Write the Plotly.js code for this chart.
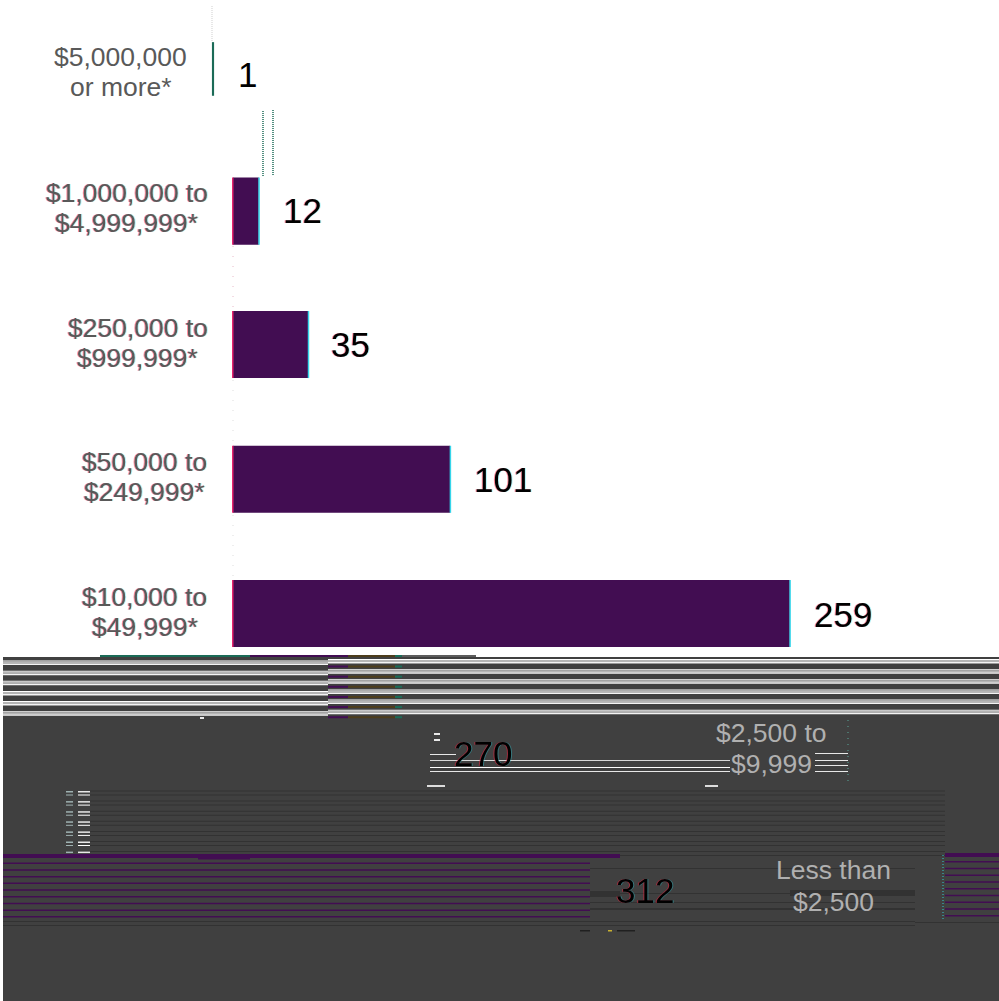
<!DOCTYPE html>
<html><head><meta charset="utf-8">
<script src="https://cdn.plot.ly/plotly-3.0.1.min.js"></script>
<style>html,body{margin:0;padding:0;background:#fff;overflow:hidden}</style>
</head><body><div id="chart" style="width:999px;height:1001px"></div>
<script>
// ---- data ----
const labelLine1 = ['$5,000,000', '$1,000,000 to', '$250,000 to', '$50,000 to', '$10,000 to', '$2,500 to', 'Less than'];
const labelLine2 = ['or more*', '$4,999,999*', '$999,999*', '$249,999*', '$49,999*', '$9,999', '$2,500'];
const values = [1, 12, 35, 101, 259, 270, 312];

// ---- layout of the picture ----
const W = 999, H = 1001, ZERO = 233, PX_PER_UNIT = 2.15, ROW0 = 77, ROW_STEP = 134.1;
const PURPLE = '#420d52', GREEN = '#1b6b57', DARK = '#404040', DARKER = '#323232';
const solidRows = 5;                       // the last two rows are shredded in the reference
const rowShift = [-0.06, 0, -0.005, 0, 0];
const barThick = [0.4, 0.5, 0.5, 0.5, 0.5];
const barBase = [-9.8, 0, 0, 0, 0];
const barColor = [GREEN, PURPLE, PURPLE, PURPLE, PURPLE];
const labelCx = [120.5, 126.5, 137.5, 144.5, 144.5, 771, 833];
const labelY1 = [57, 193, 328, 462, 597, 733, 870];
const labelY2 = [87, 223, 358, 492, 627, 764, 902];
const valueX = [235.5, 280.5, 328.5, 471.5, 811.5, 452, 614];
const valueY = [74, 210.5, 344.5, 479.5, 614.5, 753, 890];

const dataX = px => (px - ZERO) / PX_PER_UNIT;
const dataY = px => (px - ROW0) / ROW_STEP;
const shapes = [];
function rect(x0, y0, x1, y1, color) {
  shapes.push({type: 'rect', xref: 'paper', yref: 'paper', x0: x0 / W, x1: x1 / W,
    y0: 1 - y0 / H, y1: 1 - y1 / H, fillcolor: color, line: {width: 0}});
}
function vdots(x, y0, y1, color, dash, width) {
  shapes.push({type: 'line', xref: 'paper', yref: 'paper', x0: x / W, x1: x / W,
    y0: 1 - y0 / H, y1: 1 - y1 / H, line: {color: color, width: width || 1, dash: dash}});
}

// thin guides in the white part
vdots(212, 6, 42, '#cfcfcf', '1px,1px');
vdots(263, 111, 177, GREEN, '1px,1px', 1.5);
vdots(273, 110, 176, GREEN, '1px,1px', 1.5);
vdots(233, 246, 310, '#e8b8c8', '1px,9px');
vdots(233, 380, 445, '#dddddd', '1px,9px');
vdots(233, 515, 580, '#dddddd', '1px,9px');

// colour fringes along the bars
for (let i = 1; i < solidRows; i++) {
  const c = ROW0 + (i + rowShift[i]) * ROW_STEP, h = barThick[i] * ROW_STEP / 2, r = ZERO + values[i] * PX_PER_UNIT;
  rect(ZERO - 1, c - h, ZERO + 0.5, c + h, '#e6246e');
  rect(r - 0.5, c - h, r + 1, c + h, '#35d5ea');
}

// dark lower band
rect(3, 657, W, H, DARK);

// band A: scan lines right under the fifth bar
rect(100, 655, 250, 657, GREEN);
rect(250, 655, 348, 657, PURPLE);
rect(348, 655, 395, 657, '#4d3d1c');
rect(395, 655, 402, 657, GREEN);
rect(402, 655, 476, 657, '#5c5c5c');
for (let k = 0; k < 6; k++) {
  const y = 660.5 + k * 10.15;
  rect(3, y, 328, y + 1, '#ffffff');
  rect(3, y + 1, 328, y + 3, '#b5b5b5');
  rect(3, y + 3, 328, y + 4.5, '#f4f4f4');
  rect(328, y - 1.5, W, y - 0.5, '#ffffff');
  rect(328, y - 0.5, W, y + 1.5, '#b5b5b5');
  rect(328, y + 1.5, W, y + 3, '#f4f4f4');
  rect(328, y + 5, 348, y + 7, PURPLE);
  rect(348, y + 5, 395, y + 7, '#4d3d1c');
  rect(395, y + 5, 402, y + 7, GREEN);
}
rect(200, 717, 204, 719, '#e8e8e8');

// band B: scan lines around the sixth row
rect(434, 733, 440, 735, '#e8e8e8');
rect(434, 739, 440, 741, '#e8e8e8');
rect(430, 754, 456, 755, '#e8e8e8');
rect(430, 760, 730, 761, '#d8d8d8');
rect(430, 767, 730, 768, '#ffffff');
rect(430, 771, 730, 772, '#e8e8e8');
for (const y of [753, 760, 765, 771]) rect(815, y, 848, y + 1, '#e8e8e8');
rect(427, 785, 445, 787, '#dddddd');
rect(705, 785, 718, 787, '#dddddd');
vdots(848, 720, 785, '#5aa89a', '1px,5px');

// band C: dark lines with short light ticks
for (let k = 0; k < 7; k++) {
  const y = 791 + k * 10.1;
  rect(90, y - 0.5, 945, y + 0.5, DARKER);
  rect(90, y + 3.5, 945, y + 4.5, DARKER);
  rect(66, y, 73, y + 1.5, '#9fb2b2');
  rect(66, y + 3.5, 73, y + 4.5, '#9fb2b2');
  rect(78, y, 90, y + 1.5, '#e8e8e8');
  rect(78, y + 3.5, 90, y + 4.5, '#ffffff');
}

// band D: purple scan lines, wrapped past the right edge
rect(3, 854, 620, 858, PURPLE);
rect(198, 858, 250, 859.5, PURPLE);
for (let k = 0; k < 9; k++) rect(3, 862.5 + k * 6.7, 590, 864 + k * 6.7, PURPLE);
rect(945, 853, W, 857, PURPLE);
for (let k = 0; k < 9; k++) rect(945, 861 + k * 6.75, W, 862.5 + k * 6.75, PURPLE);
vdots(943, 855, 921, '#35c8d0', '1px,2px');
rect(590, 868, 915, 869, DARKER);
rect(590, 891, 620, 897, DARKER);
rect(790, 890, 915, 896, DARKER);
rect(590, 893, 790, 894, DARKER);
rect(590, 902, 915, 903, DARKER);
rect(590, 908, 915, 910, DARKER);
rect(3, 921, 915, 922, DARKER);
rect(3, 925, 915, 926, DARKER);
rect(915, 922, W, 923, DARKER);
rect(580, 930, 590, 931.5, '#202020');
rect(608, 930, 612, 931.5, '#c8b030');
rect(617, 930, 635, 931.5, '#202020');

// ---- text ----
const annotations = [];
const fringed = [];
function text(str, cx, cy, size, color, anchor, fringe) {
  annotations.push({xref: 'x', yref: 'y', x: dataX(cx), y: dataY(cy), text: str, showarrow: false,
    xanchor: anchor, yanchor: 'middle', font: {family: 'Liberation Sans, Arial, sans-serif', size: size, color: color}});
  fringed.push(fringe);
}
values.forEach((v, i) => {
  const shredded = i >= solidRows;
  const lc = shredded ? '#b0b0b0' : '#595959';
  text(labelLine1[i], labelCx[i], labelY1[i], 26.5, lc, 'center', i > 0 && !shredded);
  text(labelLine2[i], labelCx[i], labelY2[i], 26.5, lc, 'center', i > 0 && !shredded);
  text(String(v), valueX[i], valueY[i], 35, '#000000', 'left', i > 0);
});

const trace = {
  type: 'bar', orientation: 'h',
  x: values.slice(0, solidRows),
  y: rowShift.map((s, i) => i + s),
  base: barBase,
  width: barThick,
  marker: {color: barColor, line: {width: 0}},
  hoverinfo: 'skip'
};

const layout = {
  width: W, height: H, margin: {l: 0, r: 0, t: 0, b: 0, pad: 0},
  paper_bgcolor: '#ffffff', plot_bgcolor: '#ffffff', showlegend: false,
  xaxis: {range: [dataX(0), dataX(W)], visible: false, fixedrange: true},
  yaxis: {range: [dataY(H), dataY(0)], visible: false, fixedrange: true},
  shapes: shapes, annotations: annotations
};

Plotly.newPlot('chart', [trace], layout, {displayModeBar: false, staticPlot: true}).then(gd => {
  // colour fringes on the text, as in the reference; the first row has none
  gd.querySelectorAll('.annotation').forEach((el, i) => {
    if (fringed[i]) el.style.filter = 'drop-shadow(-0.7px 0 0 rgba(255,30,60,.5)) drop-shadow(1px 0 0 rgba(40,220,235,.35))';
  });
});
</script></body></html>
